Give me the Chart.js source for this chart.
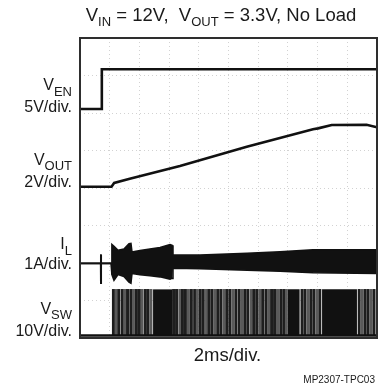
<!DOCTYPE html>
<html><head><meta charset="utf-8">
<script src="https://cdn.jsdelivr.net/npm/chart.js@4.4.1/dist/chart.umd.min.js"></script>
<style>
html,body{margin:0;padding:0;background:#fff;overflow:hidden;}
#wrap{position:relative;width:382px;height:387px;font-family:"Liberation Sans",Arial,sans-serif;color:#1a1a1a;}
#c{position:absolute;left:0;top:0;}
.t{position:absolute;white-space:nowrap;line-height:1;}
.lab{right:310px;text-align:right;font-size:16px;}
.s{position:relative;font-size:13px;top:5.5px;}
</style></head><body>
<div id="wrap">
<canvas id="c" width="382" height="387"></canvas>
<div class="t" style="left:0;width:442px;text-align:center;top:6px;font-size:18.5px">V<span class="s" style="top:5px">IN</span> = 12V,&nbsp; V<span class="s" style="top:5px">OUT</span> = 3.3V, No Load</div>
<div class="t lab" style="top:77px">V<span class="s">EN</span></div>
<div class="t lab" style="top:99px">5V/div.</div>
<div class="t lab" style="top:151.5px">V<span class="s">OUT</span></div>
<div class="t lab" style="top:174px">2V/div.</div>
<div class="t lab" style="top:236px">I<span class="s">L</span></div>
<div class="t lab" style="top:256px">1A/div.</div>
<div class="t lab" style="top:300.5px">V<span class="s">SW</span></div>
<div class="t lab" style="top:322.5px">10V/div.</div>
<div class="t" style="left:0;width:455px;text-align:center;top:346px;font-size:18.5px">2ms/div.</div>
<div class="t" style="right:7px;top:374.5px;font-size:10px">MP2307-TPC03</div>
</div>
<script>
// time axis in ms (2 ms/div, 10 divisions)
const enT = [0, 1.45, 1.47, 20];
const enV = [0, 0, 5.3, 5.3];

const outT = [0, 2.12, 2.3, 3.35, 6.73, 11.23, 15.69, 16.03, 16.95, 19.3, 20];
const outV = [0, 0, 0.2, 0.42, 1.1, 2.13, 3.06, 3.11, 3.29, 3.3, 3.17];

const ilT   = [0, 1.39, 1.40, 1.42, 1.43, 2.09, 2.15, 2.29, 2.56, 2.96, 3.30, 3.43, 3.50, 4.04, 4.71, 5.39, 6.06, 6.20, 6.26, 8.08, 11.25, 13.47, 15.69, 20];
const ilMax = [0, 0, 0.22, 0.22, 0, 0, 0.50, 0.45, 0.35, 0.38, 0.52, 0.53, 0.30, 0.34, 0.38, 0.42, 0.50, 0.48, 0.22, 0.22, 0.27, 0.31, 0.36, 0.36];
const ilMin = [0, 0, -0.53, -0.53, 0, 0, -0.30, -0.45, -0.30, -0.35, -0.50, -0.53, -0.27, -0.30, -0.33, -0.36, -0.42, -0.40, -0.13, -0.14, -0.18, -0.21, -0.25, -0.27];

const swHigh = 12.3;
const swPulseT = [2.25, 2.45, 2.62, 2.85, 3.02, 3.2, 3.42, 3.6, 3.8, 4.0, 4.18, 4.4, 4.58, 4.78,
  6.3, 6.5, 6.72, 6.9, 7.1, 7.3, 7.5, 7.72, 7.9, 8.1, 8.3, 8.52, 8.7, 8.9, 9.12, 9.3, 9.5, 9.72, 9.9,
  10.1, 10.3, 10.5, 10.72, 10.9, 11.1, 11.3, 11.52, 11.7, 11.9, 12.1, 12.3, 12.52, 12.7, 12.9, 13.1,
  13.3, 13.52, 13.72, 13.9, 14.95, 15.15, 15.35, 15.55, 15.75, 15.95, 16.15, 18.8, 19.0, 19.2, 19.4, 19.6, 19.8];
const swBlocks = [[4.92, 6.2], [14.0, 14.8], [16.3, 18.65]];

// scope channel settings: ground marker (in divisions) and units per division
const chan = {
  en:  {zero: 6.107, perDiv: 5},
  out: {zero: 4.035, perDiv: 2},
  il:  {zero: 1.991, perDiv: 1},
  sw:  {zero: 0.067, perDiv: 10}
};
const toDiv = (c, v) => c.zero + v / c.perDiv;
const pts = (ts, vs, c) => ts.map((t, i) => ({x: t, y: toDiv(c, vs[i])}));

const lineBase = {type: 'line', pointRadius: 0, tension: 0, borderColor: '#111', fill: false};

const datasets = [
  Object.assign({}, lineBase, {label: 'VEN', data: pts(enT, enV, chan.en), borderWidth: 2.6}),
  Object.assign({}, lineBase, {label: 'VOUT', data: pts(outT, outV, chan.out), borderWidth: 2.6}),
  Object.assign({}, lineBase, {label: 'IL max', data: pts(ilT, ilMax, chan.il), borderWidth: 1.6, fill: '+1', backgroundColor: '#111'}),
  Object.assign({}, lineBase, {label: 'IL min', data: pts(ilT, ilMin, chan.il), borderWidth: 1.6}),
  Object.assign({}, lineBase, {label: 'VSW base', data: [{x: 0, y: toDiv(chan.sw, 0)}, {x: 20, y: toDiv(chan.sw, 0)}], borderWidth: 2.4}),
  {type: 'bar', label: 'VSW', data: swPulseT.map(t => ({x: t, y: [toDiv(chan.sw, 0), toDiv(chan.sw, swHigh)]})),
   barThickness: 2.3, grouped: false, borderWidth: 0,
   backgroundColor: (ctx) => (ctx.dataIndex % 3 === 1 ? '#5a5a5a' : '#1e1e1e')}
];
swBlocks.forEach((b, i) => {
  datasets.push(Object.assign({}, lineBase, {
    label: 'VSW dense ' + i,
    data: [{x: b[0], y: toDiv(chan.sw, swHigh)}, {x: b[1], y: toDiv(chan.sw, swHigh)}],
    borderWidth: 0, fill: {value: toDiv(chan.sw, 0)}, backgroundColor: '#111'
  }));
});

const frame = {
  id: 'frame',
  afterDraw(chart) {
    const a = chart.chartArea, ctx = chart.ctx;
    ctx.save();
    ctx.strokeStyle = '#2e2e2e';
    ctx.lineWidth = 2;
    ctx.strokeRect(a.left, a.top, a.right - a.left, a.bottom - a.top);
    ctx.restore();
  }
};

new Chart(document.getElementById('c'), {
  type: 'line',
  data: {datasets},
  options: {
    responsive: false, animation: false, devicePixelRatio: 1,
    layout: {padding: {left: 80, top: 38, right: 5, bottom: 49}},
    plugins: {legend: {display: false}, tooltip: {enabled: false}},
    scales: {
      x: {type: 'linear', min: 0, max: 20, offset: false,
          ticks: {display: false, stepSize: 2},
          grid: {color: '#d2d2d2', lineWidth: 1, drawTicks: false, offset: false},
          border: {display: false, dash: [1, 3]}},
      y: {type: 'linear', min: 0, max: 8,
          ticks: {display: false, stepSize: 1},
          grid: {color: '#d2d2d2', lineWidth: 1, drawTicks: false},
          border: {display: false, dash: [1, 3]}}
    }
  },
  plugins: [frame]
});
</script>
</body></html>
